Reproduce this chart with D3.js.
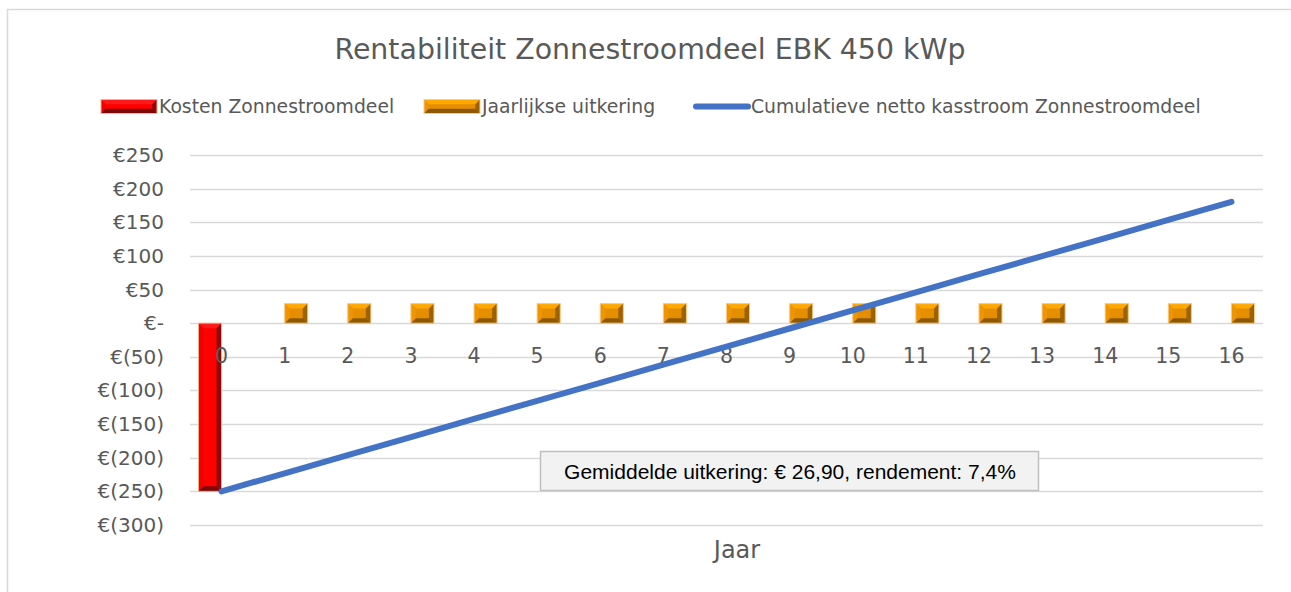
<!DOCTYPE html>
<html>
<head>
<meta charset="utf-8">
<script src="https://cdn.jsdelivr.net/npm/d3@7"></script>
<style>
  body { margin: 0; background: #fff; }
  svg text { font-family: "DejaVu Sans", sans-serif; fill: #595959; }
</style>
</head>
<body>
<svg id="chart" width="1291" height="592"></svg>
<script>
// data
const years = ["0","1","2","3","4","5","6","7","8","9","10","11","12","13","14","15","16"];
const kosten = [-250, 0, 0, 0, 0, 0, 0, 0, 0, 0, 0, 0, 0, 0, 0, 0, 0];
const uitkering = [0, 26.9, 26.9, 26.9, 26.9, 26.9, 26.9, 26.9, 26.9, 26.9, 26.9, 26.9, 26.9, 26.9, 26.9, 26.9, 26.9];
const cumulatief = [-250, -223.1, -196.2, -169.3, -142.4, -115.5, -88.6, -61.7, -34.8, -7.9, 19.0, 45.9, 72.8, 99.7, 126.6, 153.5, 180.4];
const yTicks = [250, 200, 150, 100, 50, 0, -50, -100, -150, -200, -250, -300];
const seriesNames = ["Kosten Zonnestroomdeel", "Jaarlijkse uitkering", "Cumulatieve netto kasstroom Zonnestroomdeel"];
const title = "Rentabiliteit Zonnestroomdeel EBK 450 kWp";
const note = "Gemiddelde uitkering: € 26,90, rendement: 7,4%";

const svg = d3.select("#chart");
const plotLeft = 190, plotRight = 1263, plotTop = 155, plotBottom = 525;

// chart frame
svg.append("rect").attr("x", 7.5).attr("y", 9.5).attr("width", 1300).attr("height", 600)
  .attr("fill", "#fff").attr("stroke", "#d9d9d9").attr("stroke-width", 1.5);

const x = d3.scaleBand().domain(years).range([plotLeft, plotRight]);
const inner = d3.scaleBand().domain(["k", "u"]).range([8.5, x.bandwidth() - 8.5]);
const y = d3.scaleLinear().domain([-300, 250]).range([plotBottom, plotTop]);

function euro(v) {
  if (v === 0) return "€-";
  return v < 0 ? "€(" + (-v) + ")" : "€" + v;
}

// gridlines
svg.append("g").selectAll("line").data(yTicks).join("line")
  .attr("x1", plotLeft).attr("x2", plotRight)
  .attr("y1", d => Math.round(y(d)) + 0.5).attr("y2", d => Math.round(y(d)) + 0.5)
  .attr("stroke", "#d9d9d9").attr("stroke-width", 1.5);

// y labels
svg.append("g").selectAll("text").data(yTicks).join("text")
  .attr("x", 164).attr("y", d => y(d)).attr("dy", "0.35em")
  .attr("text-anchor", "end").attr("font-size", 20).text(euro);

// bevelled bar, Excel style
function bevel(g, x0, y0, w, h, c) {
  const b = Math.min(5, w / 3, h / 3);
  const x1 = x0 + w, y1 = y0 + h;
  g.append("rect").attr("x", x0).attr("y", y0).attr("width", w).attr("height", h).attr("fill", c.mid);
  const poly = (pts, f) => g.append("polygon").attr("points", pts.map(p => p.join(",")).join(" ")).attr("fill", f);
  poly([[x0, y0], [x1, y0], [x1 - b, y0 + b], [x0 + b, y0 + b]], c.top);
  poly([[x0, y0], [x0 + b, y0 + b], [x0 + b, y1 - b], [x0, y1]], c.left);
  poly([[x1, y0], [x1, y1], [x1 - b, y1 - b], [x1 - b, y0 + b]], c.right);
  poly([[x0, y1], [x0 + b, y1 - b], [x1 - b, y1 - b], [x1, y1]], c.bottom);
  g.append("rect").attr("x", x0).attr("y", y0).attr("width", w).attr("height", h)
    .attr("fill", "none").attr("stroke", c.edge).attr("stroke-width", 1);
}
const red = { mid: "#ff0000", top: "#ff1a1a", left: "#f00000", right: "#8c0a0a", bottom: "#7a0a0a", edge: "#f4b183" };
const orange = { mid: "#e58e00", top: "#ffa800", left: "#f09400", right: "#9c6200", bottom: "#8c5800", edge: "#f8cb8e" };

const bars = svg.append("g");
kosten.forEach((v, i) => {
  if (!v) return;
  const x0 = x(years[i]) + inner("k");
  bevel(bars, x0, Math.min(y(0), y(v)), inner.bandwidth(), Math.abs(y(v) - y(0)), red);
});
uitkering.forEach((v, i) => {
  if (!v) return;
  const x0 = x(years[i]) + inner("u");
  bevel(bars, x0, Math.min(y(0), y(v)) - 1.5, inner.bandwidth(), Math.abs(y(v) - y(0)) + 1.5, orange);
});

// x labels (sit just under the zero line)
svg.append("g").selectAll("text").data(years).join("text")
  .attr("x", d => x(d) + x.bandwidth() / 2).attr("y", y(0) + 40)
  .attr("text-anchor", "middle").attr("font-size", 20.5).text(d => d);

// cumulative line
const line = d3.line().x((d, i) => x(years[i]) + x.bandwidth() / 2).y(d => y(d));
svg.append("path").datum(cumulatief).attr("d", line)
  .attr("fill", "none").attr("stroke", "#4472c4").attr("stroke-width", 6)
  .attr("stroke-linecap", "round").attr("stroke-linejoin", "round");

// note box
const nb = svg.append("g");
nb.append("rect").attr("x", 540.5).attr("y", 451.5).attr("width", 498).attr("height", 39)
  .attr("fill", "#f2f2f2").attr("stroke", "#bfbfbf").attr("stroke-width", 1.5);
nb.append("text").attr("x", 790).attr("y", 479).attr("text-anchor", "middle")
  .attr("font-size", 21)
  .style("font-family", "'Liberation Sans', Arial, sans-serif").style("fill", "#000")
  .text(note);

// title
svg.append("text").attr("x", 650).attr("y", 59).attr("text-anchor", "middle")
  .attr("font-size", 28.4).text(title);

// axis title
svg.append("text").attr("x", 737).attr("y", 558).attr("text-anchor", "middle")
  .attr("font-size", 24).text("Jaar");

// legend
const lg = svg.append("g");
const legendX = [101, 424, 693];
seriesNames.forEach((name, i) => {
  const lx = legendX[i];
  if (i === 0) bevel(lg, lx, 99.5, 56, 14, red);
  else if (i === 1) bevel(lg, lx, 99.5, 56, 14, orange);
  else lg.append("line").attr("x1", lx + 3).attr("x2", lx + 55).attr("y1", 106.5).attr("y2", 106.5)
    .attr("stroke", "#4472c4").attr("stroke-width", 6).attr("stroke-linecap", "round");
  lg.append("text").attr("x", lx + 58).attr("y", 106.5).attr("dy", "0.35em")
    .attr("font-size", 18.8).text(name);
});
</script>
</body>
</html>
